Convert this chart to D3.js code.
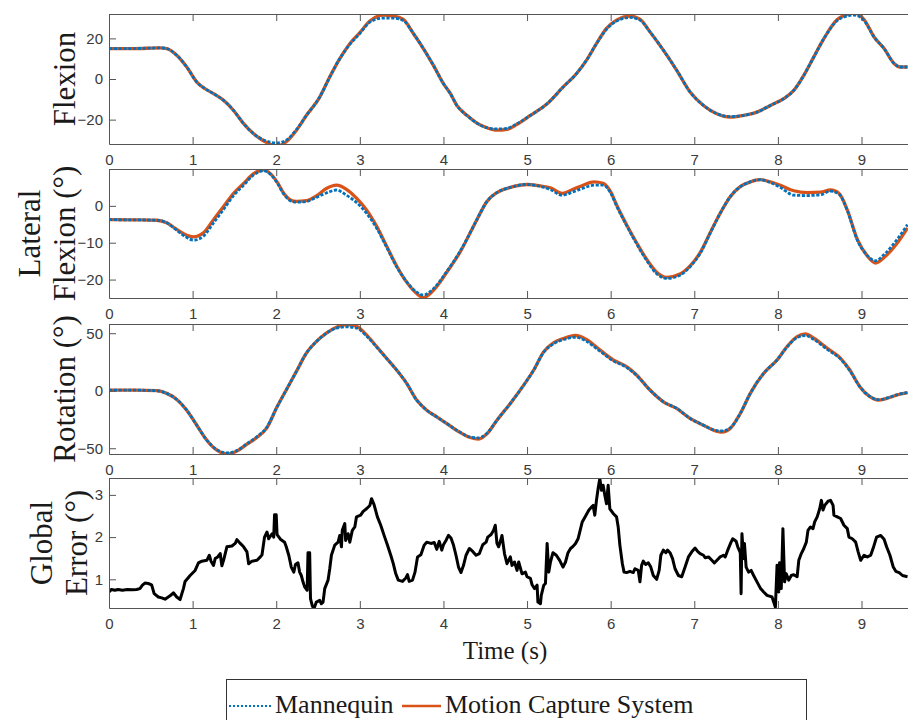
<!DOCTYPE html>
<html><head><meta charset="utf-8">
<script src="https://cdn.jsdelivr.net/npm/d3@7"></script>
<style>body{margin:0;background:#fff}</style>
</head><body>
<svg id="c" width="908" height="720"></svg>
<script>
// ---------------- DATA ----------------
const timeTicks = [0,1,2,3,4,5,6,7,8,9];

const flexT = [0,0.3,0.61,0.69,0.81,0.93,1.05,1.15,1.25,1.37,1.49,1.61,1.73,1.85,2.01,2.13,2.24,2.36,2.52,2.64,2.76,2.88,3.0,3.12,3.28,3.40,3.52,3.64,3.76,3.88,4.0,4.08,4.16,4.28,4.40,4.52,4.64,4.76,4.88,5.04,5.24,5.43,5.59,5.71,5.83,5.95,6.07,6.23,6.35,6.47,6.63,6.79,6.95,7.11,7.27,7.43,7.59,7.75,7.91,8.07,8.19,8.31,8.43,8.55,8.71,8.83,8.91,9.03,9.15,9.27,9.39,9.46,9.55];
const flexMocap = [15,15,15.3,15,11.7,5.9,-1.5,-4.8,-7.2,-10.5,-15.5,-22,-27,-30.5,-33,-30.5,-25.3,-18,-8.9,1,10,17.4,22.8,28.5,31.5,31,29.3,22.4,15,6.7,-2.3,-7,-13,-17.9,-21.7,-24,-25.2,-24.8,-22.3,-17.9,-12.2,-4,2.6,9.2,17.4,24.9,29,31,29.5,23.2,14.2,4.3,-6.4,-13,-17.1,-18.8,-17.9,-16.3,-13,-9.7,-5.6,1.8,10.9,19.9,29.3,31.8,32.6,29.3,20.7,15,7.6,5.9,5.9];
const flexMannequin = [15,15,15.3,15,11.7,5.9,-1.5,-4.8,-7.2,-10.5,-15.5,-22,-27,-30,-31.5,-29.8,-25,-18,-8.9,1,10,17,22.4,28,30,30,28.8,22.4,15,6.7,-2.3,-7,-13,-17.9,-21.7,-24,-24.6,-24.3,-22,-17.9,-12.2,-4,2.6,9.2,17.4,24.5,28.5,30.3,29,23.2,14.2,4.3,-6.4,-13,-17.1,-18.5,-17.9,-16.3,-13,-9.7,-5.6,1.8,10.9,19.9,28.8,31,31.5,28.8,20.7,15,7.6,5.9,5.9];

const latT = [0,0.3,0.57,0.69,0.81,0.93,1.01,1.13,1.25,1.37,1.49,1.61,1.73,1.85,1.93,2.01,2.09,2.17,2.24,2.36,2.48,2.60,2.72,2.84,2.96,3.08,3.20,3.32,3.44,3.56,3.68,3.76,3.88,4.04,4.20,4.40,4.52,4.64,4.80,5.0,5.16,5.28,5.42,5.55,5.67,5.80,5.91,6.0,6.07,6.19,6.31,6.43,6.55,6.67,6.83,6.95,7.07,7.19,7.31,7.43,7.55,7.67,7.79,7.91,8.03,8.19,8.35,8.51,8.63,8.73,8.83,8.95,9.07,9.17,9.27,9.43,9.55];
const latMocap = [-3.75,-3.8,-3.9,-4.6,-6.4,-8.0,-8.4,-7.3,-3.75,-0.2,3.4,6.1,8.75,9.8,8.75,6.5,3.4,1.6,1.2,1.4,2.7,4.7,5.6,4.5,2.1,-1.1,-5.5,-10.9,-16.3,-20.7,-23.8,-24.9,-22.9,-18,-12.5,-3.75,1.2,3.6,5.0,5.8,5.4,4.9,3.4,4.5,5.6,6.5,6.1,3.8,0.3,-5.1,-10,-14.5,-18,-19.4,-18.5,-16.3,-12.7,-7.3,-2.0,2.5,5.2,6.5,7.1,6.5,5.6,4.1,3.6,3.7,4.3,3.4,-1.1,-9.1,-13.6,-15.5,-14,-10,-6.0];
const latMannequin = [-3.75,-3.8,-3.9,-4.6,-6.6,-8.6,-9.3,-8.2,-4.6,-1.0,2.8,5.6,8.4,9.5,8.6,6.3,3.2,1.4,1.0,1.2,2.3,3.5,4.3,2.9,0.9,-2.0,-6.0,-11.2,-16.5,-20.6,-23.4,-24.2,-22.5,-17.8,-12.3,-3.75,1.2,3.6,5.0,5.8,5.3,4.4,2.9,3.8,4.8,5.6,5.6,3.5,0.0,-5.3,-10.3,-14.8,-18.4,-19.7,-18.8,-16.5,-12.9,-7.4,-2.0,2.5,5.2,6.5,7.1,6.3,5.0,2.9,2.8,3.0,4.0,3.2,-1.3,-9.3,-13.5,-14.9,-13.2,-9.0,-5.1];

const rotT = [0,0.3,0.57,0.69,0.81,0.93,1.05,1.17,1.29,1.41,1.53,1.65,1.77,1.89,2.01,2.13,2.24,2.36,2.48,2.60,2.72,2.84,2.96,3.08,3.20,3.32,3.44,3.56,3.68,3.80,3.92,4.04,4.18,4.32,4.42,4.52,4.64,4.80,4.96,5.08,5.20,5.32,5.44,5.58,5.71,5.87,6.03,6.19,6.31,6.47,6.63,6.79,6.95,7.11,7.23,7.33,7.43,7.55,7.67,7.83,7.99,8.11,8.23,8.33,8.43,8.59,8.75,8.86,8.98,9.10,9.20,9.30,9.42,9.55];
const rotMocap = [0.5,0.5,0,-2.3,-7.6,-16.9,-30,-43,-51.7,-55,-52.5,-46.5,-40.5,-32,-14,2,16.6,32.6,42.7,50,55.2,57.5,56,48.5,38.4,28.2,18,6.4,-8.1,-16.9,-22.7,-28.5,-35.5,-40.7,-42,-37.5,-25.6,-11,4.9,18,34,41.9,45.6,48,44.5,35.5,26.7,20.9,13.7,0.6,-9.6,-15.4,-24.1,-30,-34.3,-36,-32.8,-19.8,-2.3,15.1,26.7,38.4,47.1,49.5,45.6,36.9,28.2,18,3.5,-5.2,-8.1,-6.7,-3.8,-1.7];
const rotMannequin = [0.5,0.5,0,-2.3,-7.6,-16.9,-30,-43,-51.2,-54,-52,-46,-40,-31.5,-14,2,16.6,32.6,42.7,50,54.5,55.5,54.5,47.5,38,28,18,6.4,-8.1,-16.9,-22.7,-28.5,-35.2,-40.3,-41,-37,-25.6,-11,4.9,18,33.5,41,44.5,46.5,43,34.5,26,20.3,13.3,0.6,-9.6,-15.4,-24.1,-30,-34,-35,-32.3,-19.8,-2.3,15.1,26.7,38,46.3,48,44.5,36,27.5,17.5,3.5,-5,-7.8,-6.5,-3.6,-1.6];

const errT = [0,0.03,0.07,0.11,0.16,0.22,0.28,0.33,0.37,0.40,0.43,0.47,0.51,0.54,0.59,0.63,0.67,0.73,0.77,0.81,0.85,0.89,0.91,0.97,1.03,1.07,1.11,1.17,1.20,1.22,1.25,1.27,1.30,1.33,1.35,1.37,1.41,1.47,1.51,1.53,1.57,1.61,1.65,1.67,1.71,1.77,1.81,1.83,1.86,1.89,1.91,1.95,1.97,1.98,2.00,2.01,2.05,2.10,2.12,2.15,2.18,2.21,2.23,2.26,2.28,2.30,2.32,2.34,2.37,2.38,2.40,2.41,2.43,2.45,2.48,2.52,2.54,2.56,2.58,2.62,2.64,2.66,2.70,2.74,2.76,2.78,2.79,2.82,2.83,2.86,2.88,2.91,2.94,2.96,3.01,3.04,3.08,3.12,3.14,3.17,3.21,3.25,3.29,3.33,3.37,3.40,3.43,3.46,3.51,3.55,3.57,3.59,3.63,3.66,3.69,3.73,3.77,3.80,3.85,3.89,3.92,3.95,3.98,4.00,4.03,4.06,4.09,4.12,4.15,4.18,4.21,4.24,4.27,4.31,4.35,4.39,4.43,4.47,4.51,4.53,4.57,4.60,4.62,4.64,4.66,4.69,4.70,4.73,4.76,4.80,4.82,4.85,4.88,4.90,4.94,4.98,5.00,5.04,5.06,5.09,5.12,5.13,5.16,5.17,5.20,5.22,5.24,5.26,5.28,5.31,5.35,5.39,5.43,5.46,5.49,5.52,5.55,5.58,5.61,5.63,5.66,5.70,5.74,5.77,5.79,5.81,5.83,5.85,5.87,5.89,5.91,5.93,5.95,5.97,5.99,6.03,6.07,6.09,6.11,6.14,6.16,6.19,6.23,6.27,6.29,6.33,6.35,6.37,6.39,6.42,6.45,6.48,6.51,6.55,6.58,6.60,6.63,6.66,6.68,6.71,6.74,6.77,6.81,6.85,6.89,6.93,6.97,7.01,7.04,7.07,7.11,7.13,7.17,7.21,7.24,7.28,7.31,7.35,7.37,7.40,7.44,7.46,7.50,7.52,7.55,7.56,7.57,7.59,7.60,7.62,7.65,7.68,7.71,7.75,7.79,7.83,7.87,7.90,7.93,7.95,7.97,7.99,8.01,8.02,8.04,8.06,8.08,8.10,8.13,8.16,8.19,8.23,8.25,8.28,8.31,8.34,8.36,8.39,8.42,8.44,8.47,8.50,8.52,8.54,8.56,8.60,8.63,8.66,8.67,8.71,8.75,8.79,8.83,8.85,8.89,8.93,8.96,8.99,9.03,9.07,9.11,9.14,9.18,9.23,9.27,9.30,9.34,9.38,9.41,9.45,9.49,9.55];
const errV = [0.70,0.76,0.74,0.76,0.74,0.76,0.75,0.76,0.78,0.86,0.91,0.90,0.87,0.66,0.58,0.56,0.53,0.61,0.68,0.58,0.52,0.78,0.95,1.09,1.21,1.39,1.43,1.45,1.57,1.43,1.33,1.49,1.53,1.61,1.32,1.45,1.77,1.79,1.85,1.94,1.85,1.77,1.65,1.37,1.43,1.45,1.53,1.58,2.00,2.12,1.96,2.08,2.00,2.53,2.53,2.06,1.95,1.88,1.77,1.57,1.29,1.17,1.35,1.39,1.17,1.09,0.94,0.82,0.74,1.63,1.63,0.54,0.38,0.30,0.46,0.50,0.42,0.46,0.78,0.98,1.25,1.57,1.81,1.88,2.04,1.77,2.16,2.32,1.92,2.08,1.88,2.16,2.24,2.48,2.52,2.61,2.67,2.75,2.91,2.77,2.48,2.28,2.04,1.81,1.57,1.37,1.13,0.98,0.95,1.03,1.11,0.95,0.98,1.17,1.53,1.58,1.81,1.88,1.85,1.87,1.71,1.90,1.69,1.82,1.92,2.04,1.98,1.81,1.57,1.29,1.16,1.33,1.57,1.73,1.66,1.57,1.61,1.82,1.88,2.00,2.06,2.16,2.28,1.85,1.77,1.96,2.04,1.61,1.37,1.53,1.33,1.41,1.21,1.41,1.13,1.17,1.06,1.02,0.87,0.78,0.86,0.46,0.42,0.62,0.86,0.90,1.85,1.17,1.41,1.63,1.57,1.45,1.29,1.41,1.63,1.73,1.78,1.85,1.96,2.12,2.36,2.50,2.64,2.71,2.75,2.52,2.87,3.15,3.39,3.11,3.23,2.99,2.79,3.23,2.67,2.56,2.48,2.24,1.81,1.37,1.17,1.16,1.19,1.16,1.25,1.21,0.94,1.33,1.43,1.35,1.39,1.29,1.09,1.00,1.21,1.57,1.69,1.63,1.69,1.63,1.49,1.25,1.09,1.06,1.29,1.53,1.65,1.74,1.66,1.61,1.57,1.51,1.53,1.45,1.39,1.47,1.53,1.57,1.53,1.69,1.88,1.96,1.90,1.77,1.63,0.66,2.08,1.49,1.85,1.29,1.17,1.21,1.09,0.94,0.79,0.70,0.62,0.60,0.58,0.46,0.34,1.33,0.70,1.39,0.78,2.20,0.94,1.13,0.98,1.09,1.11,1.06,1.45,1.61,1.73,1.88,2.16,2.24,2.20,2.36,2.48,2.67,2.87,2.64,2.75,2.85,2.87,2.75,2.52,2.48,2.44,2.28,2.20,2.00,1.96,1.88,1.65,1.45,1.57,1.53,1.57,1.74,2.00,2.04,1.95,1.77,1.57,1.29,1.19,1.16,1.09,1.06];

const flexTicks = [-20,0,20];
const latTicks = [-20,-10,0];
const rotTicks = [-50,0,50];
const errTicks = [1,2,3];

const labels = [["Flexion"],["Lateral","Flexion (°)"],["Rotation (°)"],["Global","Error (°)"]];
const legendNames = ["Mannequin","Motion Capture System"];

// ---------------- LAYOUT ----------------
const svg = d3.select("#c");
const blue = "#0072BD", orange = "#D95319", axisCol = "#555", tickTextCol = "#3a3a3a";
const x = d3.scaleLinear().domain([0, 9.58]).range([109, 910]);

const panels = [
  {top:14, bottom:144, dom:[-32,32], ticks:flexTicks, series:[[flexT,flexMocap],[flexT,flexMannequin]], lab:labels[0], labX:[75]},
  {top:169, bottom:298, dom:[-25,10], ticks:latTicks, series:[[latT,latMocap],[latT,latMannequin]], lab:labels[1], labX:[40,75]},
  {top:324, bottom:454, dom:[-55,58], ticks:rotTicks, series:[[rotT,rotMocap],[rotT,rotMannequin]], lab:labels[2], labX:[75]},
  {top:478, bottom:608, dom:[0.32,3.4], ticks:errTicks, series:[[errT,errV]], lab:labels[3], labX:[52,87], err:true}
];

const sansFont = "'Liberation Sans', Arial, Helvetica, sans-serif";
const serifFont = "'Liberation Serif', 'Times New Roman', Times, serif";

panels.forEach((p,i) => {
  const y = d3.scaleLinear().domain(p.dom).range([p.bottom, p.top]);
  const g = svg.append("g");
  const cid = "clip"+i;
  g.append("clipPath").attr("id",cid).append("rect")
    .attr("x",109).attr("y",p.top).attr("width",801).attr("height",p.bottom-p.top);

  const line = d3.line().x(d=>x(d[0])).y(d=>y(d[1])).curve(d3.curveMonotoneX);
  const lg = g.append("g").attr("clip-path",`url(#${cid})`);
  if (p.err) {
    const pts = p.series[0][0].map((t,k)=>[t,p.series[0][1][k]]);
    lg.append("path").attr("d", d3.line().x(d=>x(d[0])).y(d=>y(d[1]))(pts))
      .attr("fill","none").attr("stroke","#000").attr("stroke-width",3).attr("stroke-linejoin","round");
  } else {
    const m = p.series[0][0].map((t,k)=>[t,p.series[0][1][k]]);
    const q = p.series[1][0].map((t,k)=>[t,p.series[1][1][k]]);
    lg.append("path").attr("d", line(m)).attr("fill","none").attr("stroke",orange).attr("stroke-width",3.3);
    lg.append("path").attr("d", line(q)).attr("fill","none").attr("stroke",blue).attr("stroke-width",2.8)
      .attr("stroke-dasharray","3.2,1.6");
  }

  // axes
  const bottomAx = d3.axisBottom(x).tickValues(timeTicks).tickSizeInner(-7).tickSizeOuter(0).tickPadding(10).tickFormat(d3.format("d"));
  const topAx = d3.axisTop(x).tickValues(timeTicks).tickSizeInner(-7).tickSizeOuter(0).tickFormat("");
  const leftAx = d3.axisLeft(y).tickValues(p.ticks).tickSizeInner(-7).tickSizeOuter(0).tickPadding(6).tickFormat(d3.format("d"));

  const style = sel => {
    sel.selectAll("path.domain").attr("stroke",axisCol).attr("stroke-width",1);
    sel.selectAll(".tick line").attr("stroke",axisCol).attr("stroke-width",1);
    sel.selectAll(".tick text").attr("fill",tickTextCol).style("font-family",sansFont).style("font-size","15px");
  };
  g.append("g").attr("transform",`translate(0,${p.bottom})`).call(bottomAx).call(style);
  g.append("g").attr("transform",`translate(0,${p.top})`).call(topAx).call(style);
  g.append("g").attr("transform",`translate(109,0)`).call(leftAx).call(style);

  // y label
  const cy = (p.top+p.bottom)/2;
  p.lab.forEach((txt,k)=>{
    g.append("text").attr("transform",`translate(${p.labX[k]},${cy}) rotate(-90)`)
      .attr("text-anchor","middle").style("font-family",serifFont).style("font-size","31px")
      .attr("fill","#1a1a1a").text(txt);
  });
});

// x label
svg.append("text").attr("x",505).attr("y",659).attr("text-anchor","middle")
  .style("font-family",serifFont).style("font-size","25px").attr("fill","#1a1a1a").text("Time (s)");

// legend
const leg = svg.append("g");
leg.append("rect").attr("x",226.5).attr("y",679.5).attr("width",580).attr("height",46)
  .attr("fill","#fff").attr("stroke","#333").attr("stroke-width",1);
leg.append("line").attr("x1",229).attr("x2",272).attr("y1",706).attr("y2",706)
  .attr("stroke",blue).attr("stroke-width",2).attr("stroke-dasharray","2,2");
leg.append("text").attr("x",275).attr("y",713).style("font-family",serifFont).style("font-size","26px")
  .attr("fill","#1a1a1a").text(legendNames[0]);
leg.append("line").attr("x1",402).attr("x2",441).attr("y1",706).attr("y2",706)
  .attr("stroke",orange).attr("stroke-width",2.5);
leg.append("text").attr("x",445).attr("y",713).style("font-family",serifFont).style("font-size","26px")
  .attr("fill","#1a1a1a").text(legendNames[1]);
</script>
</body></html>
